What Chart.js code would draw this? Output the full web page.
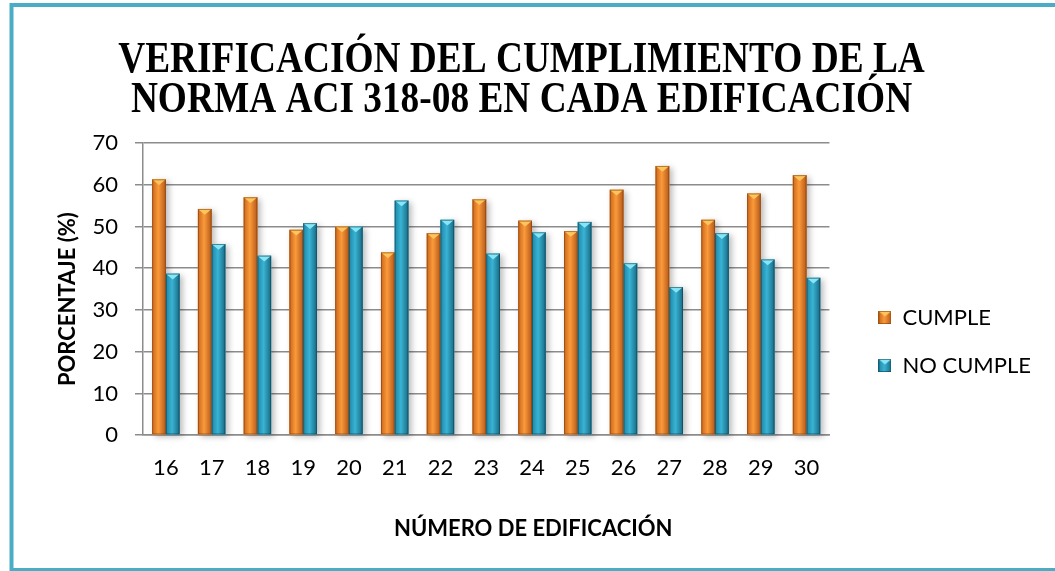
<!DOCTYPE html>
<html>
<head>
<meta charset="utf-8">
<script src="https://cdn.jsdelivr.net/npm/chart.js@4.4.1/dist/chart.umd.min.js"></script>
<style>
  html, body { margin: 0; padding: 0; background: #ffffff; }
  #wrap { width: 1055px; height: 571px; position: relative; overflow: hidden; }
  canvas { display: block; }
</style>
</head>
<body>
<div id="wrap"><canvas id="chart" width="1055" height="571"></canvas></div>
<script>
// Building numbers along the horizontal axis
const buildings = ['16', '17', '18', '19', '20', '21', '22', '23', '24', '25', '26', '27', '28', '29', '30'];

// Percentage of elements that satisfy / do not satisfy ACI 318-08
const cumple   = [61.3, 54.2, 57.0, 49.2, 50.0, 43.8, 48.4, 56.5, 51.4, 48.9, 58.8, 64.5, 51.6, 57.9, 62.3];
const noCumple = [38.7, 45.8, 43.0, 50.8, 50.0, 56.2, 51.6, 43.5, 48.6, 51.1, 41.2, 35.5, 48.4, 42.1, 37.7];

// Value axis range
const yMin = 0;
const yMax = 70;
const yStep = 10;

const titleLines = ['VERIFICACIÓN DEL CUMPLIMIENTO DE LA', 'NORMA ACI 318-08 EN CADA EDIFICACIÓN'];
const seriesNames = ['CUMPLE', 'NO CUMPLE'];
const xTitle = 'NÚMERO DE EDIFICACIÓN';
const yTitle = 'PORCENTAJE (%)';

const sansFamily = 'Lato, "Open Sans", "Noto Sans", sans-serif';

// Shading for the bevelled "pyramid-top" bars
const shades = [
  { edge: '#c9661c', light: '#fb9a3a', dark: '#b4581a', cap: '#ffc45c', outline: 'rgba(120,60,10,0.55)', base: '#f08a2c' },
  { edge: '#1f86a4', light: '#39b3d5', dark: '#186a82', cap: '#86e6f6', outline: 'rgba(10,60,80,0.55)', base: '#2f9fc0' }
];

function paintBevel(ctx, l, top, w, h, s) {
  const g = ctx.createLinearGradient(l, 0, l + w, 0);
  g.addColorStop(0, s.edge);
  g.addColorStop(0.45, s.light);
  g.addColorStop(1, s.dark);
  ctx.fillStyle = g;
  ctx.fillRect(l, top, w, h);
  const capH = Math.min(w * 0.42, h);
  ctx.beginPath();
  ctx.moveTo(l, top);
  ctx.lineTo(l + w, top);
  ctx.lineTo(l + w / 2, top + capH);
  ctx.closePath();
  ctx.fillStyle = s.cap;
  ctx.fill();
  ctx.strokeStyle = s.outline;
  ctx.lineWidth = 1;
  ctx.strokeRect(l + 0.5, top + 0.5, w - 1, h - 1);
}

// Small legend swatches with the same bevel look
function swatch(s) {
  const c = document.createElement('canvas');
  c.width = 13; c.height = 13;
  paintBevel(c.getContext('2d'), 0, 0, 13, 13, s);
  return c;
}

const bevelBars = {
  id: 'bevelBars',
  beforeDatasetsDraw(chart) {
    const ctx = chart.ctx;
    ctx.save();
    ctx.shadowColor = 'rgba(0,0,0,0.28)';
    ctx.shadowBlur = 6;
    ctx.shadowOffsetX = 3;
    ctx.shadowOffsetY = 2;
    ctx.fillStyle = '#ffffff';
    chart.data.datasets.forEach((ds, di) => {
      chart.getDatasetMeta(di).data.forEach(bar => {
        const p = bar.getProps(['x', 'y', 'base', 'width'], true);
        ctx.fillRect(p.x - p.width / 2, p.y, p.width, p.base - p.y);
      });
    });
    ctx.restore();
  },
  afterDatasetsDraw(chart) {
    const ctx = chart.ctx;
    ctx.save();
    chart.data.datasets.forEach((ds, di) => {
      chart.getDatasetMeta(di).data.forEach(bar => {
        const p = bar.getProps(['x', 'y', 'base', 'width'], true);
        paintBevel(ctx, p.x - p.width / 2, p.y, p.width, p.base - p.y, shades[di]);
      });
    });
    ctx.restore();
  }
};

// White page with the teal frame
const frame = {
  id: 'frame',
  beforeDraw(chart) {
    const ctx = chart.ctx;
    ctx.save();
    ctx.fillStyle = '#ffffff';
    ctx.fillRect(0, 0, chart.width, chart.height);
    ctx.strokeStyle = '#4bacc6';
    ctx.lineWidth = 4;
    ctx.beginPath();
    ctx.moveTo(chart.width + 10, 5);
    ctx.lineTo(11.5, 5);
    ctx.lineTo(11.5, 570);
    ctx.lineTo(chart.width + 10, 570);
    ctx.stroke();
    ctx.restore();
  }
};

// Tall, narrow bold serif title (two lines)
const condensedTitle = {
  id: 'condensedTitle',
  afterDraw(chart, args, o) {
    const ctx = chart.ctx;
    ctx.save();
    ctx.font = `bold ${o.size}px ${o.family}`;
    ctx.fillStyle = o.color;
    ctx.textAlign = 'center';
    ctx.textBaseline = 'alphabetic';
    o.text.forEach((t, i) => {
      ctx.save();
      ctx.translate(chart.width / 2 + o.dx, o.firstBaseline + i * o.lineGap);
      ctx.scale(o.scaleX, 1);
      ctx.fillText(t, 0, 0);
      ctx.restore();
    });
    ctx.restore();
  }
};

// Legend placement beside the lower half of the plot
const legendShift = {
  id: 'legendShift',
  afterLayout(chart, args, opts) {
    const lg = chart.legend;
    if (lg) {
      lg.top += opts.dy; lg.bottom += opts.dy;
      lg.left += opts.dx; lg.right += opts.dx;
    }
  }
};

// Nudge the axis titles off their default centred spot
const axisTitleOffset = {
  id: 'axisTitleOffset',
  afterLayout(chart, args, opts) {
    Object.keys(opts.offsets || {}).forEach(id => {
      const scale = chart.scales[id];
      if (!scale || scale._titleNudged) return;
      const off = opts.offsets[id];
      const orig = scale.drawTitle;
      scale.drawTitle = function () {
        const ctx = this.ctx;
        ctx.save();
        ctx.translate(off.dx || 0, off.dy || 0);
        orig.apply(this, arguments);
        ctx.restore();
      };
      scale._titleNudged = true;
    });
  }
};

new Chart(document.getElementById('chart'), {
  type: 'bar',
  data: {
    labels: buildings,
    datasets: [
      { label: seriesNames[0], data: cumple, backgroundColor: shades[0].base, pointStyle: swatch(shades[0]),
        categoryPercentage: 0.6, barPercentage: 1.0 },
      { label: seriesNames[1], data: noCumple, backgroundColor: shades[1].base, pointStyle: swatch(shades[1]),
        categoryPercentage: 0.6, barPercentage: 1.0 }
    ]
  },
  options: {
    responsive: false,
    animation: false,
    devicePixelRatio: 1,
    layout: { padding: { left: 14, right: 37, top: 143, bottom: 29 } },
    plugins: {
      title: { display: false },
      condensedTitle: {
        text: titleLines,
        family: '"Liberation Serif", "Times New Roman", serif',
        size: 45,
        scaleX: 0.83,
        color: '#000000',
        dx: -6,
        firstBaseline: 72,
        lineGap: 40
      },
      legend: {
        position: 'right',
        labels: {
          usePointStyle: true,
          pointStyleWidth: 13,
          color: '#000000',
          font: { family: sansFamily, size: 22 },
          padding: 26
        }
      },
      tooltip: { enabled: false },
      legendShift: { dx: 23, dy: -1 },
      axisTitleOffset: { offsets: { x: { dx: 47 }, y: { dy: 10 } } }
    },
    scales: {
      x: {
        grid: { display: false, drawTicks: false },
        border: { display: true, color: '#8c8c8c', width: 1.5 },
        ticks: { color: '#000000', font: { family: sansFamily, size: 22 }, padding: 20 },
        title: { display: true, text: xTitle, color: '#000000',
                 font: { family: sansFamily, size: 22, weight: 'bold' }, padding: { top: 14, bottom: 0 } }
      },
      y: {
        min: yMin,
        max: yMax,
        afterFit(scale) { scale.width = 129; },
        grid: { color: '#8c8c8c', lineWidth: 1.5, tickLength: 8, drawTicks: true },
        border: { display: true, color: '#8c8c8c', width: 1.5 },
        ticks: { stepSize: yStep, color: '#000000', font: { family: sansFamily, size: 22 }, padding: 17 },
        title: { display: true, text: yTitle, color: '#000000',
                 font: { family: sansFamily, size: 22, weight: 'bold' }, padding: { top: 41, bottom: 0 } }
      }
    }
  },
  plugins: [frame, bevelBars, legendShift, axisTitleOffset, condensedTitle]
});
</script>
</body>
</html>
